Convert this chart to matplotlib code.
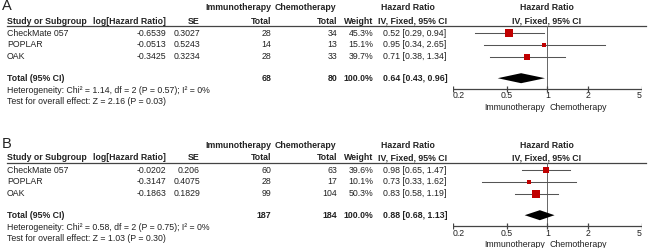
import matplotlib
matplotlib.use('Agg')
import matplotlib.pyplot as plt

plt.rcParams['font.family'] = ['Liberation Sans', 'DejaVu Sans']

# ---- data ----
studies = ['CheckMate 057', 'POPLAR', 'OAK']

log_hr_a = [-0.6539, -0.0513, -0.3425]
se_a = [0.3027, 0.5243, 0.3234]
immuno_a = [28, 14, 28]
chemo_a = [34, 13, 33]
weight_a = [45.3, 15.1, 39.7]
hr_a = [0.52, 0.95, 0.71]
lo_a = [0.29, 0.34, 0.38]
hi_a = [0.94, 2.65, 1.34]
total_a = [0.64, 0.43, 0.96]
n_total_a = [68, 80]
het_a = 'Heterogeneity: Chi² = 1.14, df = 2 (P = 0.57); I² = 0%'
test_a = 'Test for overall effect: Z = 2.16 (P = 0.03)'

log_hr_b = [-0.0202, -0.3147, -0.1863]
se_b = [0.206, 0.4075, 0.1829]
immuno_b = [60, 28, 99]
chemo_b = [63, 17, 104]
weight_b = [39.6, 10.1, 50.3]
hr_b = [0.98, 0.73, 0.83]
lo_b = [0.65, 0.33, 0.58]
hi_b = [1.47, 1.62, 1.19]
total_b = [0.88, 0.68, 1.13]
n_total_b = [187, 184]
het_b = 'Heterogeneity: Chi² = 0.58, df = 2 (P = 0.75); I² = 0%'
test_b = 'Test for overall effect: Z = 1.03 (P = 0.30)'

ticks = [0.2, 0.5, 1, 2, 5]
tick_labels = ['0.2', '0.5', '1', '2', '5']

# ---- layout (pixels) ----
W, H = 650, 248
FX0, FX1 = 452.7, 642.0   # forest x-extent for 0.2 .. 5
TXT = '#222222'
RED = '#C00000'
FS = 6.3

fig = plt.figure(figsize=(W / 100, H / 100), dpi=100)
tab = fig.add_axes([0, 0, 1, 1])
tab.set_xlim(0, W)
tab.set_ylim(H, 0)
tab.axis('off')

fp = fig.add_axes([FX0 / W, 0, (FX1 - FX0) / W, 1])
fp.set_xscale('log')
fp.set_xlim(0.2, 5)
fp.set_ylim(H, 0)
fp.axis('off')


def txt(x, y, s, ha='left', bold=False, size=FS, va='center'):
    tab.text(x, y, s, ha=ha, va=va, fontsize=size, color=TXT,
             fontweight='bold' if bold else 'normal')


def panel(off, letter, log_hr, se, immuno, chemo, weight, hr, lo, hi,
          total, n_total, het, test):
    rows = [off + 33.3, off + 44.8, off + 56.8]
    y_tot = off + 78.7
    y_axis = off + 88.5
    txt(1.5, off + 10.5, letter, size=10.5, va='baseline')
    # headers
    txt(271, off + 8, 'Immunotherapy', ha='right', bold=True)
    txt(275, off + 8, 'Chemotherapy', bold=True)
    txt(408, off + 8, 'Hazard Ratio', ha='center', bold=True)
    txt(547, off + 8, 'Hazard Ratio', ha='center', bold=True)
    y2 = off + 21
    txt(7, y2, 'Study or Subgroup', bold=True)
    txt(166, y2, 'log[Hazard Ratio]', ha='right', bold=True)
    txt(200, y2, 'SE', ha='right', bold=True)
    txt(271, y2, 'Total', ha='right', bold=True)
    txt(337, y2, 'Total', ha='right', bold=True)
    txt(373, y2, 'Weight', ha='right', bold=True)
    txt(413, y2, 'IV, Fixed, 95% CI', ha='center', bold=True)
    txt(547, y2, 'IV, Fixed, 95% CI', ha='center', bold=True)
    tab.plot([7, 646], [off + 26, off + 26], color='#444444', lw=0.9)

    for i, y in enumerate(rows):
        txt(7, y, studies[i])
        txt(166, y, str(log_hr[i]), ha='right')
        txt(200, y, str(se[i]), ha='right')
        txt(271, y, str(immuno[i]), ha='right')
        txt(337, y, str(chemo[i]), ha='right')
        txt(373, y, f'{weight[i]:.1f}%', ha='right')
        txt(383, y, f'{hr[i]:.2f} [{lo[i]:.2f}, {hi[i]:.2f}]')
        fp.plot([lo[i], hi[i]], [y, y], color='#555555', lw=0.75, zorder=2)
        side = 1.1 * weight[i] ** 0.5 * 0.72
        fp.plot([hr[i]], [y], marker='s', ms=side, color=RED, mec=RED,
                mew=0, zorder=3)

    txt(7, y_tot, 'Total (95% CI)', bold=True)
    txt(271, y_tot, str(n_total[0]), ha='right', bold=True)
    txt(337, y_tot, str(n_total[1]), ha='right', bold=True)
    txt(373, y_tot, '100.0%', ha='right', bold=True)
    txt(383, y_tot, f'{total[0]:.2f} [{total[1]:.2f}, {total[2]:.2f}]',
        bold=True)
    fp.fill([total[1], total[0], total[2], total[0]],
            [y_tot - 0.5, y_tot - 5.5, y_tot - 0.5, y_tot + 4.5],
            color='black', lw=0, zorder=3)

    txt(7, off + 90.7, het)
    txt(7, off + 101.3, test)

    # null line and axis
    fp.plot([1, 1], [off + 26, y_axis], color='#666666', lw=0.7, zorder=1)
    fp.plot([ticks[0], ticks[-1]], [y_axis, y_axis], color='#444444', lw=0.9)
    fp.vlines(ticks, y_axis - 3, y_axis + 3, color='#444444', lw=0.9)
    for j, (t, lab) in enumerate(zip(ticks, tick_labels)):
        ha = 'left' if j == 0 else ('right' if j == len(ticks) - 1 else 'center')
        fp.text(t, y_axis + 7.5, lab, ha=ha, va='center', fontsize=FS,
                color=TXT)
    fp.text(0.96, y_axis + 19, 'Immunotherapy', ha='right', va='center',
            fontsize=FS, color=TXT)
    fp.text(1.04, y_axis + 19, 'Chemotherapy', ha='left', va='center',
            fontsize=FS, color=TXT)


panel(0, 'A', log_hr_a, se_a, immuno_a, chemo_a, weight_a, hr_a, lo_a, hi_a,
      total_a, n_total_a, het_a, test_a)
panel(137, 'B', log_hr_b, se_b, immuno_b, chemo_b, weight_b, hr_b, lo_b, hi_b,
      total_b, n_total_b, het_b, test_b)

fig.savefig('out.png', dpi=100)
